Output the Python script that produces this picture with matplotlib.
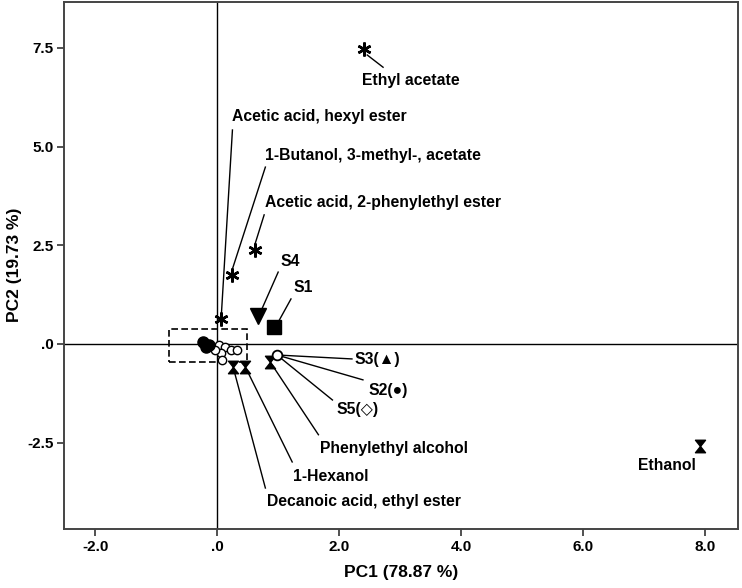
import matplotlib
matplotlib.use("Agg")
import matplotlib.pyplot as plt
from matplotlib.path import Path
from matplotlib.patches import Rectangle

plt.rcParams['font.family'] = ['Liberation Sans', 'DejaVu Sans']
plt.rcParams['font.weight'] = 'bold'

# compound loadings drawn as asterisks
star_names = ["Ethyl acetate", "Acetic acid, hexyl ester",
              "1-Butanol, 3-methyl-, acetate", "Acetic acid, 2-phenylethyl ester"]
star_pc1 = [2.41, 0.07, 0.25, 0.62]
star_pc2 = [7.47, 0.63, 1.75, 2.38]

# compound loadings drawn as hourglasses
hour_names = ["Decanoic acid, ethyl ester", "1-Hexanol", "Phenylethyl alcohol", "Ethanol"]
hour_pc1 = [0.26, 0.46, 0.87, 7.92]
hour_pc2 = [-0.58, -0.58, -0.46, -2.58]

# sample scores
s1_pc = (0.93, 0.43)
s4_pc = (0.67, 0.71)
s235_pc = (0.98, -0.28)

# unlabelled points in the dashed box
filled_pc1 = [-0.23, -0.18, -0.13]
filled_pc2 = [0.05, -0.08, -0.03]
open_pc1 = [0.03, 0.13, 0.23, 0.33, 0.07, 0.08, -0.03]
open_pc2 = [-0.03, -0.08, -0.15, -0.15, -0.23, -0.41, -0.15]

x_ticks = [-2.0, 0.0, 2.0, 4.0, 6.0, 8.0]
x_ticklabels = ["-2.0", ".0", "2.0", "4.0", "6.0", "8.0"]
y_ticks = [-2.5, 0.0, 2.5, 5.0, 7.5]
y_ticklabels = ["-2.5", ".0", "2.5", "5.0", "7.5"]

# label layout: (text x, text y, leader start x, leader start y)
star_lab = [(2.38, 6.68, 2.72, 7.01),
            (0.25, 5.75, 0.25, 5.42),
            (0.79, 4.78, 0.79, 4.48),
            (0.79, 3.59, 0.77, 3.27)]
hour_lab = [(0.82, -4.00, 0.79, -3.65),
            (1.25, -3.37, 1.23, -2.99),
            (1.69, -2.66, 1.66, -2.30),
            (7.38, -3.09, None, None)]

hourglass = Path([(-0.8, 1), (0.8, 1), (0, 0), (0.8, -1), (-0.8, -1), (0, 0), (-0.8, 1)],
                 [Path.MOVETO] + [Path.LINETO] * 5 + [Path.CLOSEPOLY])
asterisk = (6, 2, 0)

fig = plt.figure(figsize=(7.42, 5.88), dpi=100)
ax = fig.add_axes([0.0856, 0.1009, 0.9090, 0.8962])
ax.set_xlim(-2.52, 8.54)
ax.set_ylim(-4.68, 8.67)

ax.axhline(0, color='black', lw=1.0, zorder=1)
ax.axvline(0, color='black', lw=1.0, zorder=1)
ax.add_patch(Rectangle((-0.79, -0.46), 1.28, 0.84, fill=False, ls=(0, (4, 2)),
                       lw=1.2, ec='black', zorder=2))

fs = 11.3
# asterisk compounds + leaders
for i, name in enumerate(star_names):
    tx, ty, lx, ly = star_lab[i]
    px, py = star_pc1[i], star_pc2[i]
    if i == 0:
        ax.plot([lx, 2.46], [ly, 7.32], color='black', lw=1.0, zorder=2)
    else:
        ax.plot([lx, px], [ly, py + 0.15], color='black', lw=1.0, zorder=2)
    ax.text(tx, ty, name, fontsize=fs, fontweight='bold', ha='left', va='center')
ax.plot(star_pc1, star_pc2, ls='none', marker=asterisk, ms=10, mew=1.8,
        color='black', zorder=4)

# hourglass compounds + leaders
for i, name in enumerate(hour_names):
    tx, ty, lx, ly = hour_lab[i]
    if lx is not None:
        ax.plot([lx, hour_pc1[i]], [ly, hour_pc2[i]], color='black', lw=1.0, zorder=2)
        ax.text(tx, ty, name, fontsize=fs, fontweight='bold', ha='left', va='center')
    else:
        ax.text(tx, ty, name, fontsize=fs, fontweight='bold', ha='center', va='center')
ax.plot(hour_pc1, hour_pc2, ls='none', marker=hourglass, ms=9, color='black',
        mec='black', zorder=4)

# samples
ax.plot([1.0, s4_pc[0] + 0.07], [1.82, s4_pc[1] + 0.2], color='black', lw=1.0, zorder=2)
ax.plot([1.21, s1_pc[0] + 0.08], [1.14, s1_pc[1] + 0.15], color='black', lw=1.0, zorder=2)
ax.text(1.03, 2.08, "S4", fontsize=fs, fontweight='bold', ha='left', va='center')
ax.text(1.25, 1.44, "S1", fontsize=fs, fontweight='bold', ha='left', va='center')
ax.plot(*s4_pc, marker='v', ms=11, color='black', zorder=4)
ax.plot(*s1_pc, marker='s', ms=10, color='black', zorder=4)

for (lx, ly), (tx, ty, txt) in zip([(2.21, -0.38), (2.39, -0.91), (1.89, -1.42)],
                                    [(2.25, -0.40, "S3(▲)"), (2.48, -1.17, "S2(●)"),
                                     (1.95, -1.67, "S5(◇)")]):
    ax.plot([s235_pc[0], lx], [s235_pc[1], ly], color='black', lw=1.0, zorder=2)
    ax.text(tx, ty, txt, fontsize=fs, fontweight='bold', ha='left', va='center')
ax.plot(*s235_pc, marker='o', ms=7, mfc='white', mec='black', mew=1.3, zorder=5)

ax.plot(open_pc1, open_pc2, ls='none', marker='o', ms=6, mfc='white', mec='black',
        mew=1.0, zorder=4)
ax.plot(filled_pc1, filled_pc2, ls='none', marker='o', ms=8, color='black', zorder=5)

ax.set_xticks(x_ticks)
ax.set_xticklabels(x_ticklabels)
ax.set_yticks(y_ticks)
ax.set_yticklabels(y_ticklabels)
ax.tick_params(direction='out', length=5, width=1.2, labelsize=11, pad=2, color='#333333')
ax.tick_params(axis='x', pad=3)
for lab in ax.get_xticklabels() + ax.get_yticklabels():
    lab.set_fontweight('bold')
for sp in ax.spines.values():
    sp.set_color('#444444')
    sp.set_linewidth(1.4)

ax.set_xlabel("PC1 (78.87 %)", fontsize=12.5, fontweight='bold')
ax.set_ylabel("PC2 (19.73 %)", fontsize=12.5, fontweight='bold')
ax.xaxis.set_label_coords(0.5, -0.068)
ax.yaxis.set_label_coords(-0.062, 0.5)

fig.savefig("out.png", dpi=100)
